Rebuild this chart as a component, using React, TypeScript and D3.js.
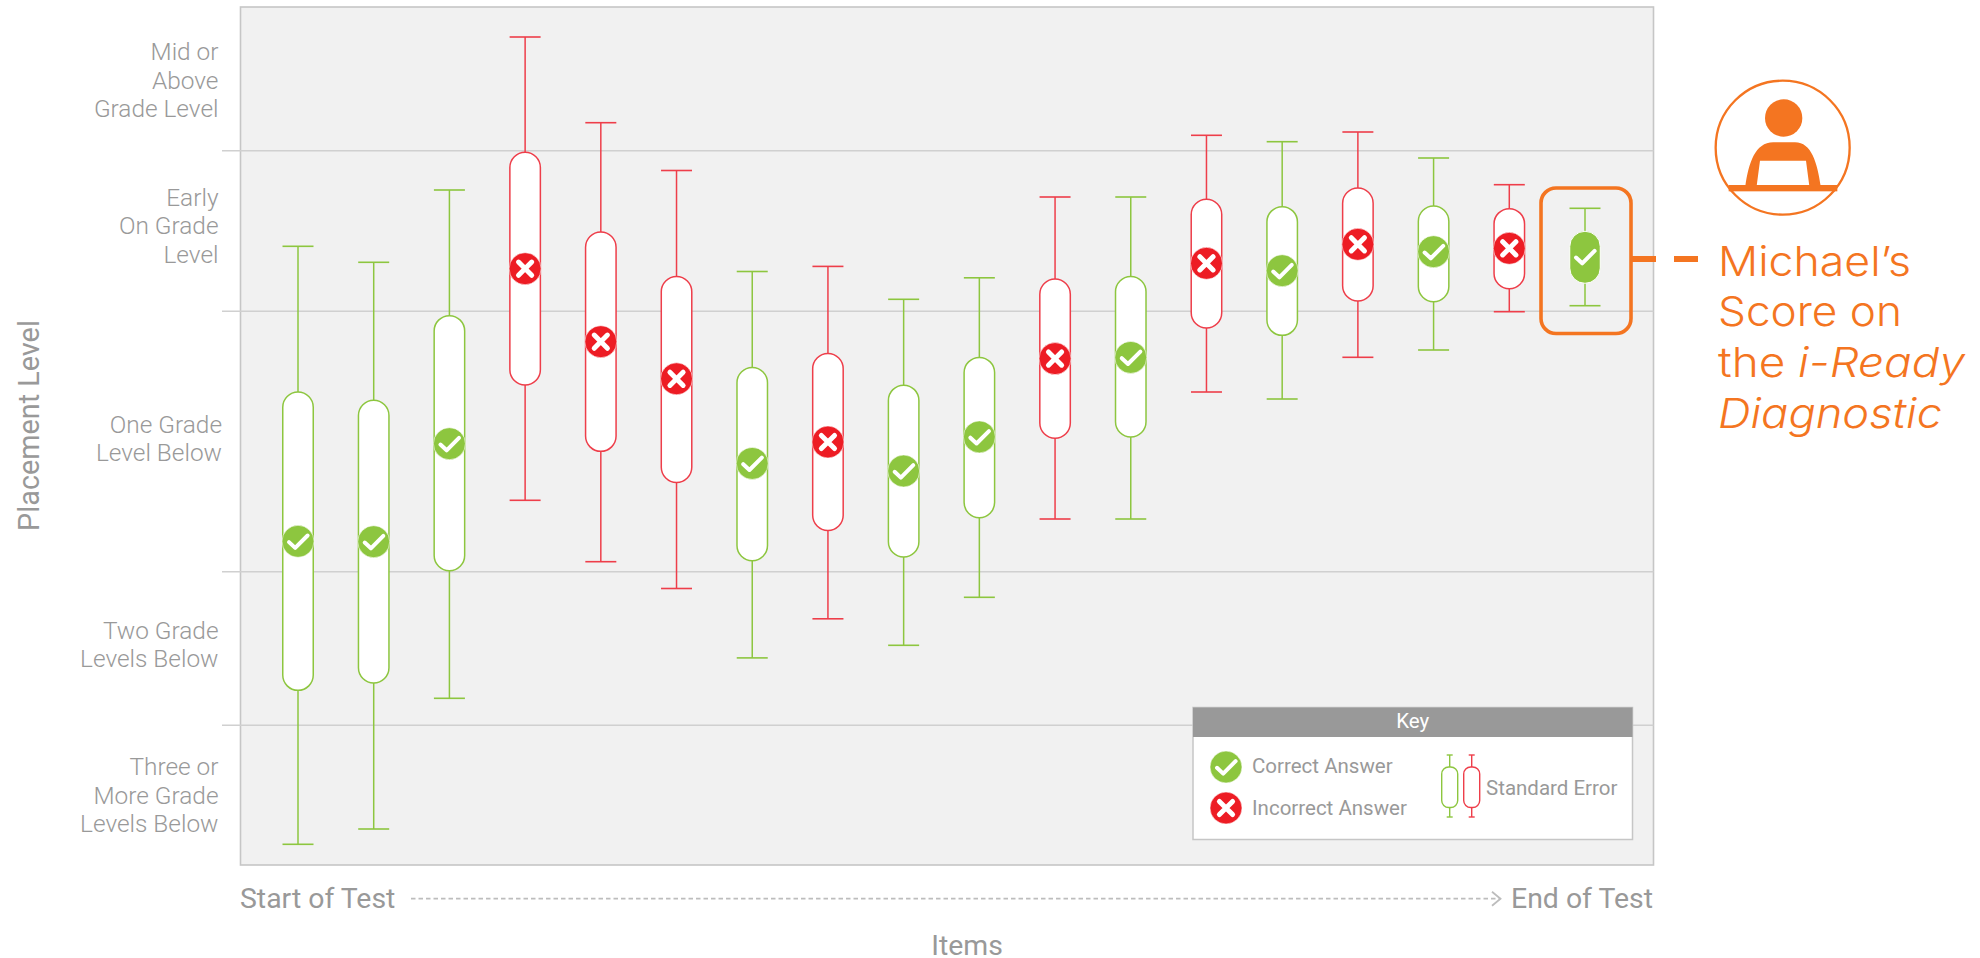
import React from 'react';
import * as d3 from 'd3';

const whiskerHigh = [618.7, 602.7, 675, 828, 742.3, 694.5, 593.5, 598.6, 565.7, 587.2, 668, 668, 729.7, 723.3, 733, 707, 680.3, 656.7];
const boxHigh = [473, 464.7, 549.3, 712.7, 633, 588.5, 497.5, 511.4, 479.8, 507.6, 586, 588.5, 665.7, 658.3, 677, 659, 656.3, 633.7];
const scores = [323.7, 323.3, 421.3, 596.3, 523.3, 486.2, 401.6, 423, 394, 428.1, 506.4, 507.6, 601.7, 594.3, 620.7, 613.3, 616.7, 608.3];
const boxLow = [174.7, 182, 294.3, 480, 413.7, 382.6, 304.3, 334.6, 308.1, 347.3, 426.8, 428.1, 537, 529.7, 564, 563.3, 576.3, 581.7];
const whiskerLow = [20.7, 36, 166.7, 364.7, 303.3, 276.5, 207.1, 246.2, 219.7, 267.7, 346, 346, 473, 466, 507.7, 515, 553.3, 559.3];
const correct = [true, true, true, false, false, false, true, false, true, true, false, true, false, true, false, true, false, true];
const cutoffs = [139.7, 293.3, 553.7, 714.3];

const levelLabels = [
  { lines: ['Mid or', 'Above', 'Grade Level'], base: 805 },
  { lines: ['Early', 'On Grade', 'Level'], base: 659.3 },
  { lines: ['One Grade', 'Level Below'], base: 432.3, right: 222 },
  { lines: ['Two Grade', 'Levels Below'], base: 226.3 },
  { lines: ['Three or', 'More Grade', 'Levels Below'], base: 90 },
];

const GREEN = '#8DC63F';
const RED = '#ED1C24';
const RED_LINE = '#EE3E4A';
const GREY = '#999999';
const ORANGE = '#F47521';
const FONT = 'Roboto, sans-serif';

const plot = { left: 240.5, right: 1653.5, top: 7, bottom: 865 };
const BOX_W = 30.5;
const CAP_W = 31;

const x = d3.scalePoint<number>().domain(d3.range(scores.length)).range([298, 1585]);
const y = d3.scaleLinear().domain([0, 858]).range([plot.bottom, plot.top]);

const Marker = ({ cx, cy, ok, halo = true }: { cx: number; cy: number; ok: boolean; halo?: boolean }) => (
  <g transform={`translate(${cx},${cy})`}>
    {halo && <circle r={16} fill={ok ? GREEN : RED} stroke="#fff" strokeOpacity={0.7} strokeWidth={0.8} />}
    {ok ? (
      <path d="M-9,0.8 L-2.8,6.6 L9.6,-5.8" fill="none" stroke="#fff" strokeWidth={4} strokeLinecap="round" strokeLinejoin="round" />
    ) : (
      <path d="M-6.6,-6.6 L6.6,6.6 M6.6,-6.6 L-6.6,6.6" fill="none" stroke="#fff" strokeWidth={5} strokeLinecap="round" />
    )}
  </g>
);

const Item = ({ i }: { i: number }) => {
  const cx = x(i) as number;
  const ok = correct[i];
  const last = i === scores.length - 1;
  const col = ok ? GREEN : RED_LINE;
  const top = y(boxHigh[i]);
  const bot = y(boxLow[i]);
  return (
    <g>
      <line x1={cx} x2={cx} y1={y(whiskerHigh[i])} y2={y(whiskerLow[i])} stroke={col} strokeWidth={1.5} />
      <line x1={cx - CAP_W / 2} x2={cx + CAP_W / 2} y1={y(whiskerHigh[i])} y2={y(whiskerHigh[i])} stroke={col} strokeWidth={1.6} />
      <line x1={cx - CAP_W / 2} x2={cx + CAP_W / 2} y1={y(whiskerLow[i])} y2={y(whiskerLow[i])} stroke={col} strokeWidth={1.6} />
      {last ? (
        <rect x={cx - BOX_W / 2} width={BOX_W} y={top} height={bot - top} rx={15.2} fill={GREEN} stroke="#fff" strokeWidth={1} />
      ) : (
        <rect x={cx - BOX_W / 2} width={BOX_W} y={top} height={bot - top} rx={15.2} fill="#fff" stroke={col} strokeWidth={1.5} />
      )}
      <Marker cx={cx} cy={y(scores[i])} ok={ok} halo={!last} />
    </g>
  );
};

const MiniBox = ({ cx, col }: { cx: number; col: string }) => (
  <g stroke={col} strokeWidth={1.4}>
    <line x1={cx} x2={cx} y1={755} y2={817} />
    <line x1={cx - 3} x2={cx + 3} y1={755} y2={755} />
    <line x1={cx - 3} x2={cx + 3} y1={817} y2={817} />
    <rect x={cx - 8} width={16} y={767} height={40.5} rx={7} fill="#fff" />
  </g>
);

const App = () => {
  return (
    <svg width={1980} height={958} style={{ position: 'absolute', left: 0, top: 0, background: '#fff' }} fontFamily={FONT}>
      <defs>
        <marker id="chev" markerWidth={12} markerHeight={18} refX={9.5} refY={8} orient="auto" markerUnits="userSpaceOnUse">
          <path d="M1,1 L9.5,8 L1,15" fill="none" stroke="#BDBDBD" strokeWidth={1.8} />
        </marker>
      </defs>

      {/* plot area */}
      <rect x={plot.left} y={plot.top} width={plot.right - plot.left} height={plot.bottom - plot.top} fill="#F1F1F1" stroke="#C6C6C6" strokeWidth={1.6} />
      {cutoffs.map(c => (
        <line key={c} x1={222} x2={plot.right} y1={y(c)} y2={y(c)} stroke="#D0D0D0" strokeWidth={1.5} />
      ))}

      {/* level labels */}
      <g fill={GREY} fontSize={24.4} fontWeight={300} textAnchor="end">
        {levelLabels.map(l =>
          l.lines.map((t, j) => (
            <text key={t + j} x={l.right ?? 218.5} y={y(l.base) + j * 28.6}>{t}</text>
          ))
        )}
      </g>

      {scores.map((_, i) => <Item key={i} i={i} />)}

      {/* key */}
      <rect x={1193} y={707.5} width={439.5} height={132} fill="#fff" stroke="#C6C6C6" strokeWidth={1.5} />
      <rect x={1193} y={707.5} width={439.5} height={29.5} fill={GREY} />
      <text x={1412.7} y={727.7} fill="#fff" fontSize={20.5} textAnchor="middle">Key</text>
      <Marker cx={1226} cy={767} ok={true} />
      <Marker cx={1226} cy={808} ok={false} />
      <g fill={GREY} fontSize={20.5}>
        <text x={1252} y={773.3}>Correct Answer</text>
        <text x={1252} y={815.3}>Incorrect Answer</text>
        <text x={1486} y={794.7}>Standard Error</text>
      </g>
      <MiniBox cx={1449.7} col={GREEN} />
      <MiniBox cx={1471.7} col={RED_LINE} />

      {/* axis titles */}
      <g fill={GREY}>
        <text x={240} y={907.7} fontSize={28.4}>Start of Test</text>
        <text x={1653} y={907.7} fontSize={28.4} textAnchor="end">End of Test</text>
        <text x={967} y={955} fontSize={28.4} textAnchor="middle">Items</text>
        <text transform="translate(38.5,425.5) rotate(-90)" fontSize={28.8} textAnchor="middle">Placement Level</text>
      </g>
      <line x1={411} x2={1500.5} y1={898.7} y2={898.7} stroke="#BDBDBD" strokeWidth={1.8} strokeDasharray="4.5 3" markerEnd="url(#chev)" />

      {/* Michael callout */}
      <rect x={1541} y={188} width={90} height={145.5} rx={15} fill="none" stroke={ORANGE} strokeWidth={3.6} />
      <line x1={1632} x2={1656} y1={259} y2={259} stroke={ORANGE} strokeWidth={6} />
      <line x1={1674} x2={1698} y1={259} y2={259} stroke={ORANGE} strokeWidth={6} />

      <g transform="translate(1460,60) scale(0.33333)">
        <circle cx={968} cy={263} r={201} fill="none" stroke={ORANGE} strokeWidth={7} />
        <circle cx={971} cy={174} r={56} fill={ORANGE} />
        <path
          d="M856,378 C866,310 885,247 940,247 L1005,247 C1055,247 1072,310 1082,378 L1048,378 L1038,302 L900,302 L890,378 Z"
          fill={ORANGE}
        />
        <rect x={806} y={375} width={326} height={19} fill={ORANGE} />
      </g>

      <g fill={ORANGE} fontSize={41} fontWeight={300} fontFamily="Inter, sans-serif">
        <text x={1718} y={275.7} textLength={193} lengthAdjust="spacingAndGlyphs">Michael’s</text>
        <text x={1718} y={325.7} textLength={184} lengthAdjust="spacingAndGlyphs">Score on</text>
        <text x={1718} y={377} textLength={247} lengthAdjust="spacingAndGlyphs">the <tspan fontStyle="italic">i-Ready</tspan></text>
        <text x={1718} y={427.7} textLength={224} lengthAdjust="spacingAndGlyphs" fontStyle="italic">Diagnostic</text>
      </g>
    </svg>
  );
};

export default App;
